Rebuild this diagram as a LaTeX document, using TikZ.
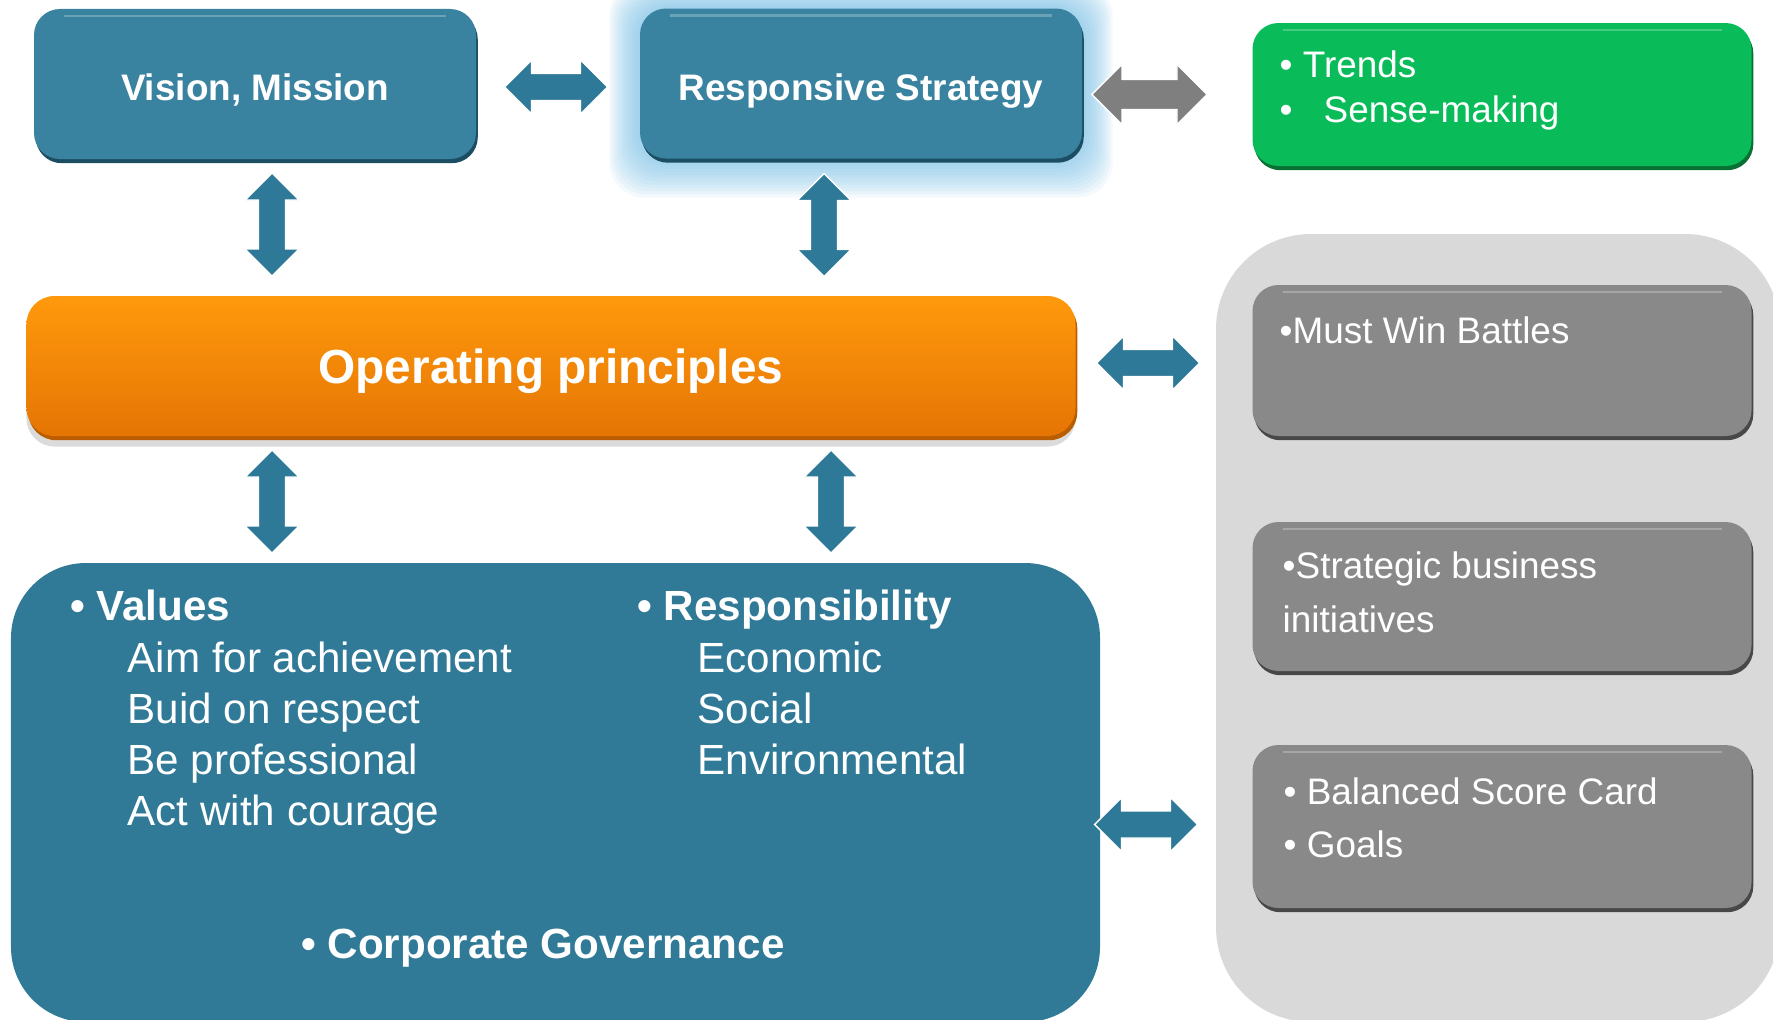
\documentclass[tikz,border=0pt]{standalone}
\usepackage{fontspec}
\setmainfont{Liberation Sans}
\usetikzlibrary{shadows,backgrounds}

\definecolor{boxblue}{RGB}{57,131,161}
\definecolor{boxbluedark}{RGB}{28,78,99}
\definecolor{arrowblue}{RGB}{46,121,151}
\definecolor{baseblue}{RGB}{48,122,151}
\definecolor{glowblue}{RGB}{120,190,228}
\definecolor{trendgreen}{RGB}{9,188,89}
\definecolor{trendgreendark}{RGB}{8,112,50}
\definecolor{cardgrey}{RGB}{137,137,137}
\definecolor{cardgreydark}{RGB}{72,72,72}
\definecolor{panelgrey}{RGB}{217,217,217}
\definecolor{arrowgrey}{RGB}{127,127,127}
\definecolor{optop}{RGB}{255,153,12}
\definecolor{opbottom}{RGB}{229,117,4}
\definecolor{opdark}{RGB}{186,92,0}

\newcommand{\bodyfont}{\fontsize{12}{14.5}\selectfont}
\newcommand{\cardfont}{\fontsize{10.5}{12.6}\selectfont}

\begin{document}
\begin{tikzpicture}[
  bevel/.style={rounded corners=0.26cm, inner sep=0pt,
    drop shadow={shadow xshift=0.5pt, shadow yshift=-1.2pt, opacity=1, fill=#1},
    path picture={\draw[white, opacity=0.25, line width=0.8pt]
      ([xshift=0.3cm, yshift=-0.07cm]path picture bounding box.north west) --
      ([xshift=-0.3cm, yshift=-0.07cm]path picture bounding box.north east);}},
  topbox/.style={bevel=boxbluedark, fill=boxblue, minimum width=4.42cm, minimum height=1.50cm,
    text=white, text height=9.5pt, text depth=0pt, font=\bfseries\fontsize{10.5}{12}\selectfont},
  card/.style={bevel=cardgreydark, fill=cardgrey, minimum width=4.99cm},
  cardtext/.style={anchor=base west, text=white, font=\cardfont, inner sep=0pt},
  bodytext/.style={anchor=base west, text=white, font=\bodyfont, inner sep=0pt},
  headtext/.style={bodytext, font=\bodyfont\bfseries},
  dblarrow/.pic={
    \path[pic actions] (-0.515,0) -- ++(0.27,0.27) -- ++(0,-0.135) -- (0.245,0.135)
      -- ++(0,0.135) -- (0.515,0) -- ++(-0.27,-0.27) -- ++(0,0.135) -- (-0.245,-0.135)
      -- ++(0,-0.135) -- cycle;
  }]
  \useasboundingbox (0,0) rectangle (17.73,-10.19);

  % right hand panel and its cards
  \node[fill=panelgrey, rounded corners=0.95cm, minimum width=5.64cm, minimum height=7.88cm, inner sep=0pt] (panel) at (14.98,-6.28) {};
  \node[card, minimum height=1.51cm] (battles)     at (15.02,-3.605) {};
  \node[card, minimum height=1.49cm] (initiatives) at (15.02,-5.965) {};
  \node[card, minimum height=1.63cm] (scorecard)   at (15.02,-8.265) {};
  \node[bevel=trendgreendark, fill=trendgreen, minimum width=4.99cm, minimum height=1.43cm] (trends) at (15.02,-0.945) {};

  \node[cardtext] (trendstext)  at (12.79,-0.77) {• Trends};
  \node[cardtext] (sensetext)   at (12.79,-1.22) {•\hspace{0.31cm}Sense-making};
  \node[cardtext] (battlestext) at (12.79,-3.43) {•Must Win Battles};
  \node[cardtext] (sbitext)     at (12.82,-5.78) {•Strategic business};
  \node[cardtext] (sbitext2)    at (12.82,-6.32) {initiatives};
  \node[cardtext] (bsctext)     at (12.83,-8.04) {• Balanced Score Card};
  \node[cardtext] (goalstext)   at (12.83,-8.57) {• Goals};

  % top row
  \node[topbox] (vision)   at (2.55,-0.84)  {Vision, Mission};
  \node[topbox] (strategy) at (8.61,-0.835) {Responsive Strategy};
  \begin{scope}[on background layer]
    \foreach \g in {1,...,12}
      \fill[glowblue, opacity=0.09, rounded corners=0.35cm]
        ([shift={(-0.025*\g,0.022*\g)}]strategy.north west) rectangle
        ([shift={(0.025*\g,-0.032*\g)}]strategy.south east);
  \end{scope}

  \node[rounded corners=0.28cm, top color=optop, bottom color=opbottom,
    minimum width=10.49cm, minimum height=1.40cm, text height=9.7pt, text depth=0pt,
    drop shadow={shadow xshift=0pt, shadow yshift=-3pt, opacity=0.35, fill=black!40},
    drop shadow={shadow xshift=0.5pt, shadow yshift=-1.2pt, opacity=1, fill=opdark},
    text=white, font=\bfseries\fontsize{13.6}{16}\selectfont] (principles) at (5.51,-3.66) {Operating principles};

  % values block
  \node[fill=baseblue, rounded corners=0.75cm, minimum width=10.89cm, minimum height=4.59cm, inner sep=0pt] (base) at (5.555,-7.925) {};
  \node[headtext] (values) at (0.695,-6.20) {• Values};
  \foreach \txt [count=\i] in {Aim for achievement, Buid on respect, Be professional, Act with courage}
    \node[bodytext] (value\i) at (1.27,{-6.21-0.51*\i}) {\txt};
  \node[headtext] (resp) at (6.365,-6.20) {• Responsibility};
  \foreach \txt [count=\i] in {Economic, Social, Environmental}
    \node[bodytext] (resp\i) at (6.97,{-6.21-0.51*\i}) {\txt};
  \node[headtext] (governance) at (3.005,-9.58) {• Corporate Governance};

  % block arrows
  \pic[fill=arrowblue, draw=white, line width=0.4pt] (vs) at (5.56,-0.87) {dblarrow};
  \pic[fill=arrowgrey, draw=white, line width=0.4pt, scale=1.12] (st) at (11.495,-0.945) {dblarrow};
  \pic[fill=arrowblue, draw=white, line width=0.4pt, rotate=90] (vp) at (2.72,-2.245) {dblarrow};
  \pic[fill=arrowblue, draw=white, line width=0.4pt, rotate=90] (sp) at (8.24,-2.25) {dblarrow};
  \pic[fill=arrowblue, draw=white, line width=0.4pt, rotate=90] (pv) at (2.72,-5.015) {dblarrow};
  \pic[fill=arrowblue, draw=white, line width=0.4pt, rotate=90] (pr) at (8.31,-5.015) {dblarrow};
  \pic[fill=arrowblue, draw=white, line width=0.4pt] (pb) at (11.48,-3.63) {dblarrow};
  \pic[fill=arrowblue, draw=white, line width=0.4pt] (bc) at (11.46,-8.245) {dblarrow};
\end{tikzpicture}
\end{document}
